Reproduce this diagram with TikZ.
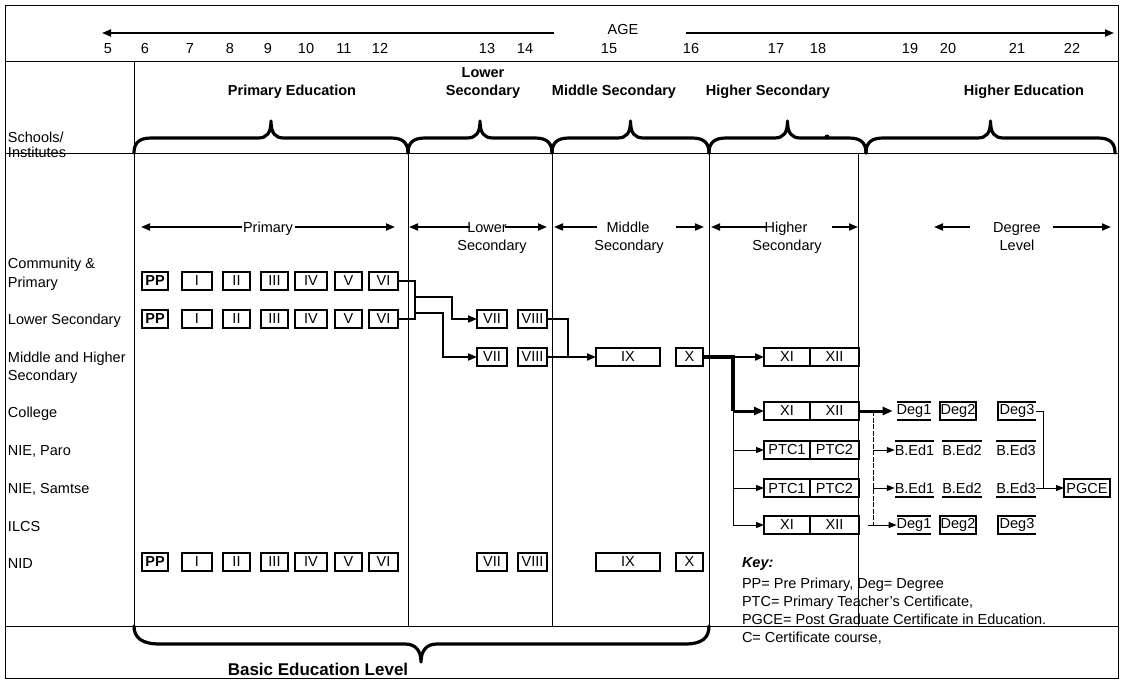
\documentclass[tikz,border=0pt]{standalone}
\usepackage{fontspec}
\setmainfont{Liberation Sans}
\usetikzlibrary{arrows.meta}
\newcommand\tsz{\fontsize{14.5}{18}\selectfont}
\newcommand\bsz{\fontsize{14.5}{18}\selectfont\bfseries}
\newcommand\topbrace[2]{%
  \pgfmathsetmacro\bxm{(#1+#2)/2}%
  \draw[brc] (#1,153) .. controls (#1,143) and (#1+5,138) .. (#1+17,138)
    -- (\bxm-13,138) .. controls (\bxm-4,138) and (\bxm,133) .. (\bxm,121)
    .. controls (\bxm,133) and (\bxm+4,138) .. (\bxm+13,138)
    -- (#2-17,138) .. controls (#2-5,138) and (#2,143) .. (#2,153);}
\begin{document}
\begin{tikzpicture}[x=1pt,y=-1pt,
  every node/.style={inner sep=0pt, outer sep=0pt, font=\tsz},
  gbox/.style={draw, line width=1.3pt, minimum height=18pt},
  ibox/.style={minimum height=18pt},
  bline/.style={line width=1.3pt},
  rule/.style={line width=1pt},
  brc/.style={line width=3.2pt, line cap=round, line join=round},
  arr/.style={line width=1.8pt, -{Triangle[length=9pt,width=7pt]}},
  conn/.style={line width=2pt},
  fatline/.style={line width=3.2pt},
  fatarr/.style={line width=3pt, -{Triangle[length=10pt,width=8pt]}},
  thinline/.style={line width=1pt},
  thinarr/.style={line width=1pt, -{Triangle[length=8pt,width=6pt]}},
  dashline/.style={line width=0.9pt, dash pattern=on 5pt off 1.5pt},
  lbl/.style={anchor=base west},
  bt/.style={anchor=base}]
\useasboundingbox (0,0) rectangle (1125,681);
\fill[white] (0,0) rectangle (1125,681);

% ---------- age scale ----------
\foreach \aa/\ax in {5/108,6/145,7/190,8/230,9/268,10/306,11/344,12/380,13/487,14/525,15/609,16/691,17/776,18/818,19/910,20/948,21/1017,22/1072}
  \node[bt] (age\aa) at (\ax,53) {\aa};
\node[bt] (ageT) at (623,34) {AGE};
\coordinate (ageL0) at (554,33); \coordinate (ageL1) at (102,33);
\coordinate (ageR0) at (686,33); \coordinate (ageR1) at (1114,33);
\draw[arr] (ageL0) -- (ageL1);
\draw[arr] (ageR0) -- (ageR1);

% ---------- header ----------
\node[bt, font=\bsz] (hPE) at (292,95) {Primary Education};
\node[bt, font=\bsz] (hLS1) at (483,77) {Lower};
\node[bt, font=\bsz] (hLS2) at (483,95) {Secondary};
\node[bt, font=\bsz] (hMS) at (614,95) {Middle Secondary};
\node[bt, font=\bsz] (hHS) at (768,95) {Higher Secondary};
\node[bt, font=\bsz] (hHE) at (1024,95) {Higher Education};
\node[lbl] (lSch) at (8,142) {Schools/};
\node[lbl] (lIns) at (8,157) {Institutes};

\topbrace{134}{408}
\topbrace{408}{552}
\topbrace{552}{709}
\topbrace{709}{866}
\topbrace{866}{1115}
\fill (827,137) circle (2.5);

% ---------- key ----------
\node[lbl, font=\tsz\bfseries\itshape] (kKey) at (742,567) {Key:};
\node[lbl] (k1) at (742,588) {PP= Pre Primary, Deg= Degree};
\node[lbl] (k2) at (742,606) {PTC= Primary Teacher's Certificate,};
\node[lbl] (k3) at (742,624) {PGCE= Post Graduate Certificate in Education.};
\node[lbl] (k4) at (742,642) {C= Certificate course,};

% ---------- rules ----------
\draw[rule] (5,5) rectangle (1118,678);
\draw[rule] (5,61) -- (1118,61);
\draw[rule] (5,153) -- (1118,153);
\draw[rule] (5,626) -- (1118,626);
\draw[rule] (134,61) -- (134,626);
\foreach \vx in {408,552,709,858} \draw[rule] (\vx,153) -- (\vx,626);

% bottom brace
\draw[brc] (134,626) .. controls (134,638) and (142,644) .. (160,644)
  -- (405,644) .. controls (415,644) and (421,650) .. (421,662)
  .. controls (421,650) and (427,644) .. (437,644)
  -- (685,644) .. controls (702,644) and (709,638) .. (709,626);
\node[bt, font=\fontsize{17}{20}\selectfont\bfseries] (bel) at (318,675) {Basic Education Level};

% ---------- level arrows ----------
\node[bt] (tPr) at (268,232) {Primary};
\node[bt] (tLo) at (487,232) {Lower};
\node[bt] (tLo2) at (492,250) {Secondary};
\node[bt] (tMi) at (628,232) {Middle};
\node[bt] (tMi2) at (629,250) {Secondary};
\node[bt] (tHi) at (786,232) {Higher};
\node[bt] (tHi2) at (787,250) {Secondary};
\node[bt] (tDe) at (1017,232) {Degree};
\node[bt] (tDe2) at (1017,250) {Level};
\coordinate (pr0) at (242,227); \coordinate (pr1) at (141,227);
\coordinate (pr2) at (295,227); \coordinate (pr3) at (395,227);
\coordinate (lo0) at (470,227); \coordinate (lo1) at (409,227);
\coordinate (lo2) at (505,227); \coordinate (lo3) at (547,227);
\coordinate (mi0) at (597,227); \coordinate (mi1) at (554,227);
\coordinate (mi2) at (676,227); \coordinate (mi3) at (704,227);
\coordinate (hi0) at (767,227); \coordinate (hi1) at (711,227);
\coordinate (hi2) at (832,227); \coordinate (hi3) at (858,227);
\coordinate (de0) at (970,227); \coordinate (de1) at (934,227);
\coordinate (de2) at (1053,227); \coordinate (de3) at (1111,227);
\foreach \pa/\pb in {pr0/pr1,pr2/pr3,lo0/lo1,lo2/lo3,mi0/mi1,mi2/mi3,hi0/hi1,hi2/hi3,de0/de1,de2/de3}
  \draw[arr] (\pa) -- (\pb);

% ---------- row labels ----------
\node[lbl] (rCP1) at (8,268) {Community \&};
\node[lbl] (rCP2) at (8,287) {Primary};
\node[lbl] (rLS) at (8,324) {Lower Secondary};
\node[lbl] (rMH1) at (8,362) {Middle and Higher};
\node[lbl] (rMH2) at (8,380) {Secondary};
\node[lbl] (rCol) at (8,417) {College};
\node[lbl] (rPa) at (8,455) {NIE, Paro};
\node[lbl] (rSa) at (8,493) {NIE, Samtse};
\node[lbl] (rIl) at (8,531) {ILCS};
\node[lbl] (rNid) at (8,568) {NID};

% ---------- class boxes ----------
\foreach \rw/\yy in {cp/281, ls/319, nid/562} {
  \node[gbox, minimum width=26pt, font=\bsz] (\rw PP) at (155,\yy) {PP};
  \foreach \nm/\cx/\bw in {I/197/30, II/236.5/27, III/274.5/27, IV/311/32, V/348.5/27, VI/383.5/29}
    \node[gbox, minimum width=\bw pt] (\rw\nm) at (\cx,\yy) {\nm};
}
\foreach \rw/\yy in {ls/319, mh/357, nid/562} {
  \node[gbox, minimum width=30pt] (\rw VII) at (492,\yy) {VII};
  \node[gbox, minimum width=29pt] (\rw VIII) at (532.5,\yy) {VIII};
}
\foreach \rw/\yy in {mh/357, nid/562} {
  \node[gbox, minimum width=64pt] (\rw IX) at (628,\yy) {IX};
  \node[gbox, minimum width=27pt] (\rw X) at (689.5,\yy) {X};
}
\foreach \rw/\yy in {mh/357, col/411, il/525} {
  \node[gbox, line width=1.5pt, minimum width=46pt] (\rw XI) at (787,\yy) {XI};
  \node[gbox, line width=1.5pt, minimum width=49pt] (\rw XII) at (834.5,\yy) {XII};
}
\foreach \rw/\yy in {paro/450, sam/488} {
  \node[gbox, line width=1.5pt, minimum width=46pt] (\rw P1) at (787,\yy) {PTC1};
  \node[gbox, line width=1.5pt, minimum width=49pt] (\rw P2) at (834.5,\yy) {PTC2};
}
% degrees
\foreach \rw/\yy in {col/411, il/525} {
  \node[ibox, minimum width=34pt] (\rw D1) at (914,\yy) {Deg1};
  \node[gbox, minimum width=36pt] (\rw D2) at (958,\yy) {Deg2};
  \node[ibox, minimum width=38pt] (\rw D3) at (1017,\yy) {Deg3};
  \draw[bline] (\rw D1.north west) -- (\rw D1.north east);
  \draw[bline] (\rw D1.south west) -- (\rw D1.south east);
  \draw[bline] (\rw D3.north east) -- (\rw D3.north west) -- (\rw D3.south west) -- (\rw D3.south east);
}
\foreach \rw/\yy in {paro/450, sam/488} {
  \node[ibox, minimum width=37pt] (\rw B1) at (914.5,\yy) {B.Ed1};
  \node[ibox, minimum width=38pt] (\rw B2) at (962,\yy) {B.Ed2};
  \node[ibox, minimum width=38pt] (\rw B3) at (1016,\yy) {B.Ed3};
}
\foreach \bb in {B1,B2,B3} {
  \draw[bline] (paro\bb.north west) -- (paro\bb.north east);
  \draw[bline] (sam\bb.south west) -- (sam\bb.south east);
}
\node[gbox, minimum width=46pt] (PGCE) at (1087,488) {PGCE};

% ---------- connectors ----------
\coordinate (jA) at (415,281);
\coordinate (jB) at (415,319);
\coordinate (jC) at (415,297);
\coordinate (jD) at (415,313);
\draw[conn] (cpVI.east) -- (jA) -- (jB) -- (lsVI.east);
\draw[arr] (jC) -| ([xshift=-25pt]lsVII.west) -- (lsVII.west);
\draw[arr] (jD) -| ([xshift=-34pt]mhVII.west) -- (mhVII.west);
\coordinate (jE) at (568,357);
\draw[conn] (lsVIII.east) -| (jE) -- (mhVIII.east);
\draw[arr] (jE) -- (mhIX.west);
\coordinate (jF) at (733,357);
\coordinate (jG) at (733,411);
\draw[fatline] (mhX.east) -- (jF) -- (jG);
\draw[arr] (jF) -- (mhXI.west);
\draw[fatarr] (jG) -- (colXI.west);
\draw[thinarr] (jG) |- (ilXI.west);
\draw[thinarr] (jG |- paroP1.west) -- (paroP1.west);
\draw[thinarr] (jG |- samP1.west) -- (samP1.west);
\draw[fatarr] (colXII.east) -- ([xshift=-4pt]colD1.west);
\coordinate (jH) at (873,411);
\coordinate (jI) at (873,525);
\coordinate (jK) at (868,525);
\draw[dashline] (jH) -- (jI);
\draw[thinarr] (jH |- paroB1.west) -- (paroB1.west);
\draw[thinarr] (jH |- samB1.west) -- (samB1.west);
\draw[thinarr] (jK) -- (ilD1.west);
\coordinate (jJ) at (1043,488);
\draw[thinline] (colD3.east) -| (jJ);
\draw[thinarr] (samB3.east) -- (PGCE.west);
\end{tikzpicture}
\end{document}
